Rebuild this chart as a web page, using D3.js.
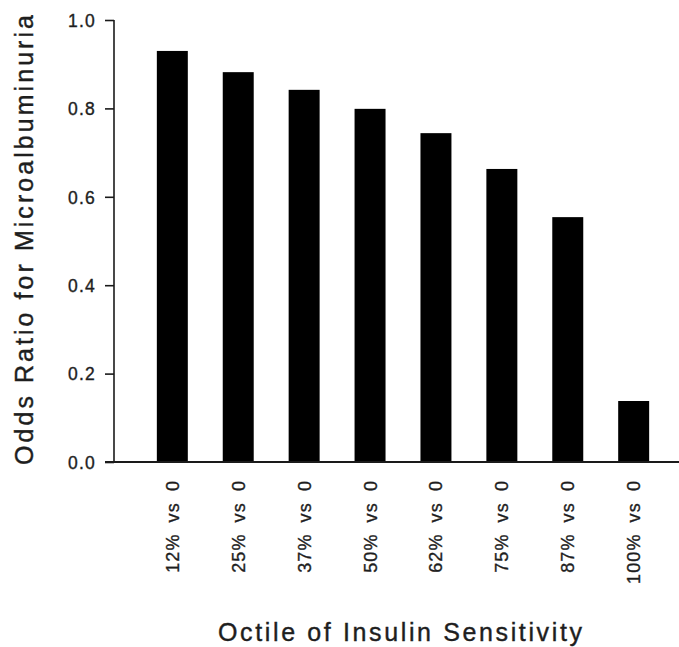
<!DOCTYPE html>
<html>
<head>
<meta charset="utf-8">
<script src="https://cdn.jsdelivr.net/npm/d3@7"></script>
<style>
  html, body { margin: 0; padding: 0; background: #fff; }
  svg { display: block; font-family: "Liberation Sans", Arial, Helvetica, sans-serif; }
</style>
</head>
<body>
<svg id="chart" width="679" height="647"></svg>
<script>
const categories = ["12% vs 0", "25% vs 0", "37% vs 0", "50% vs 0", "62% vs 0", "75% vs 0", "87% vs 0", "100% vs 0"];
const oddsRatios = [0.93, 0.882, 0.842, 0.799, 0.744, 0.663, 0.554, 0.138];
const yTicks = [0, 0.2, 0.4, 0.6, 0.8, 1.0];
const yTitle = "Odds Ratio for Microalbuminuria";
const xTitle = "Octile of Insulin Sensitivity";

const svg = d3.select("#chart");
const ink = "#1a1a1a";
const txt = "#1e1e1e";

const y = d3.scaleLinear().domain([0, 1]).range([462, 20]);
const x = d3.scaleBand().domain(categories).range([114, 692]).paddingInner(0.53).paddingOuter(0.65);

// bars
svg.append("g").selectAll("rect").data(oddsRatios).join("rect")
  .attr("x", (d, i) => x(categories[i]))
  .attr("width", x.bandwidth())
  .attr("y", d => y(d))
  .attr("height", d => y(0) - y(d))
  .attr("fill", "#000");

// y axis
const yAxis = d3.axisLeft(y).tickValues(yTicks).tickFormat(d3.format(".1f")).tickSize(9).tickPadding(9);
const gy = svg.append("g").attr("transform", "translate(114,0)").call(yAxis);
gy.select(".domain").attr("stroke", ink).attr("stroke-width", 1.6).attr("d", "M0,20V462");
gy.selectAll(".tick line").attr("stroke", ink).attr("stroke-width", 1.6);
gy.selectAll(".tick text")
  .attr("fill", txt)
  .attr("stroke", txt).attr("stroke-width", 0.35)
  .style("font-size", "17.5px")
  .style("letter-spacing", "1.2px")
  .attr("dy", "0.36em");

// x axis baseline
svg.append("line")
  .attr("x1", 105).attr("x2", 679)
  .attr("y1", y(0)).attr("y2", y(0))
  .attr("stroke", ink).attr("stroke-width", 1.8);

// category labels (rotated)
svg.append("g").selectAll("text").data(categories).join("text")
  .attr("transform", d => `translate(${x(d) + x.bandwidth() / 2},480) rotate(-90)`)
  .attr("text-anchor", "end")
  .attr("dy", "0.36em")
  .attr("fill", txt)
  .attr("stroke", txt).attr("stroke-width", 0.35)
  .style("font-size", "18px")
  .style("letter-spacing", "1.1px")
  .style("word-spacing", "5px")
  .text(d => d);

// y title
svg.append("text")
  .attr("transform", "translate(33,240) rotate(-90)")
  .attr("text-anchor", "middle")
  .attr("fill", txt)
  .attr("stroke", txt).attr("stroke-width", 0.4)
  .style("font-size", "25px")
  .attr("textLength", 450)
  .attr("lengthAdjust", "spacing")
  .text(yTitle);

// x title
svg.append("text")
  .attr("x", 400).attr("y", 641)
  .attr("text-anchor", "middle")
  .attr("fill", txt)
  .attr("stroke", txt).attr("stroke-width", 0.4)
  .style("font-size", "25px")
  .attr("textLength", 364)
  .attr("lengthAdjust", "spacing")
  .text(xTitle);
</script>
</body>
</html>
